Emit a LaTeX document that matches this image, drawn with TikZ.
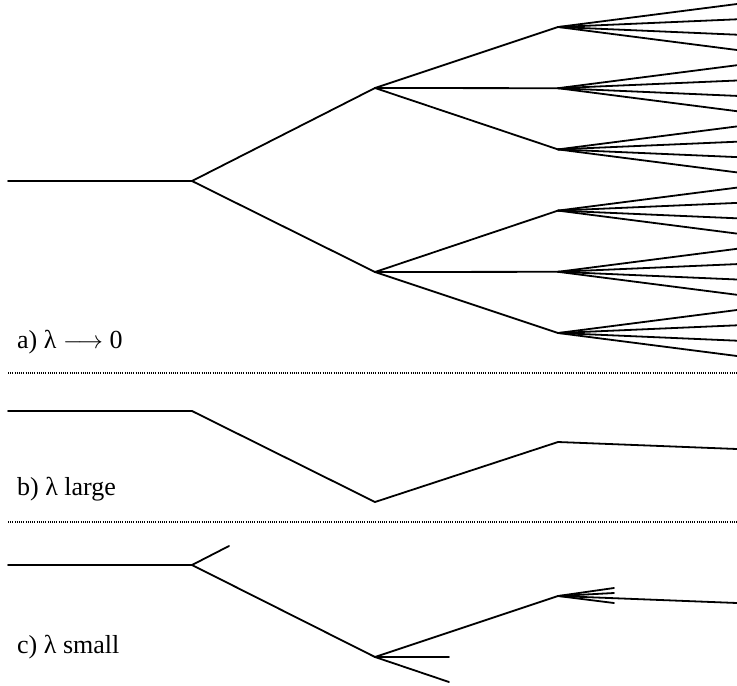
\documentclass[tikz,border=0pt]{standalone}
\usepackage{fontspec}
\newfontfamily\labfont{Liberation Serif}
\begin{document}
\begin{tikzpicture}[x=1pt,y=-1pt,
  branch/.style={line width=1.8pt,line cap=round,line join=round},
  sep/.style={line width=1.2pt,dash pattern=on 1pt off 1.2pt},
  lab/.style={anchor=west,inner sep=0pt,font=\labfont\fontsize{26}{30}\selectfont}]
\useasboundingbox (0,0) rectangle (737,686);
% ---------- a)
\coordinate (a0) at (8,181);
\coordinate (a1) at (192,181);
\coordinate (b1) at (375,88);
\coordinate (b2) at (375,272);
\foreach \j/\cy in {0/27,1/88.2,2/149.4,3/210.6,4/271.8,5/333}{
  \coordinate (c\j) at (558,\cy);
  \foreach \d [count=\k] in {-23,-7.7,7.7,23}{
    \coordinate (e\j\k) at (737,\cy+\d);
    \draw[branch] (c\j) -- (e\j\k);
  }
}
\draw[branch] (a0) -- (a1);
\draw[branch] (a1) -- (b1);
\draw[branch] (a1) -- (b2);
\draw[branch] (b1) -- (c0);
\draw[branch] (b1) -- (c1);
\draw[branch] (b1) -- (c2);
\draw[branch] (b2) -- (c3);
\draw[branch] (b2) -- (c4);
\draw[branch] (b2) -- (c5);
\node[lab] (la) at (17,342) {a) λ $\longrightarrow$ 0};
\coordinate (s1l) at (8,373);
\coordinate (s1r) at (737,373);
\draw[sep] (s1l) -- (s1r);
% ---------- b)
\coordinate (p0) at (8,411);
\coordinate (p1) at (192,411);
\coordinate (p2) at (375,502);
\coordinate (p3) at (558,442);
\coordinate (p4) at (737,449);
\draw[branch] (p0) -- (p1) -- (p2) -- (p3) -- (p4);
\node[lab] (lb) at (17,489) {b) λ large};
\coordinate (s2l) at (8,522);
\coordinate (s2r) at (737,522);
\draw[sep] (s2l) -- (s2r);
% ---------- c)
\coordinate (q0) at (8,565);
\coordinate (q1) at (192,565);
\coordinate (q1u) at (229,546);
\coordinate (q2) at (375,657);
\coordinate (q2h) at (449,657);
\coordinate (q2d) at (449,682);
\coordinate (q3) at (558,596);
\coordinate (q3a) at (614,588);
\coordinate (q3b) at (614,593);
\coordinate (q3c) at (614,603);
\coordinate (q4) at (737,603);
\draw[branch] (q0) -- (q1);
\draw[branch] (q1) -- (q1u);
\draw[branch] (q1) -- (q2);
\draw[branch] (q2) -- (q3);
\draw[branch] (q2) -- (q2h);
\draw[branch] (q2) -- (q2d);
\draw[branch] (q3) -- (q3a);
\draw[branch] (q3) -- (q3b);
\draw[branch] (q3) -- (q3c);
\draw[branch] (q3) -- (q4);
\node[lab] (lc) at (17,647) {c) λ small};
\end{tikzpicture}
\end{document}
